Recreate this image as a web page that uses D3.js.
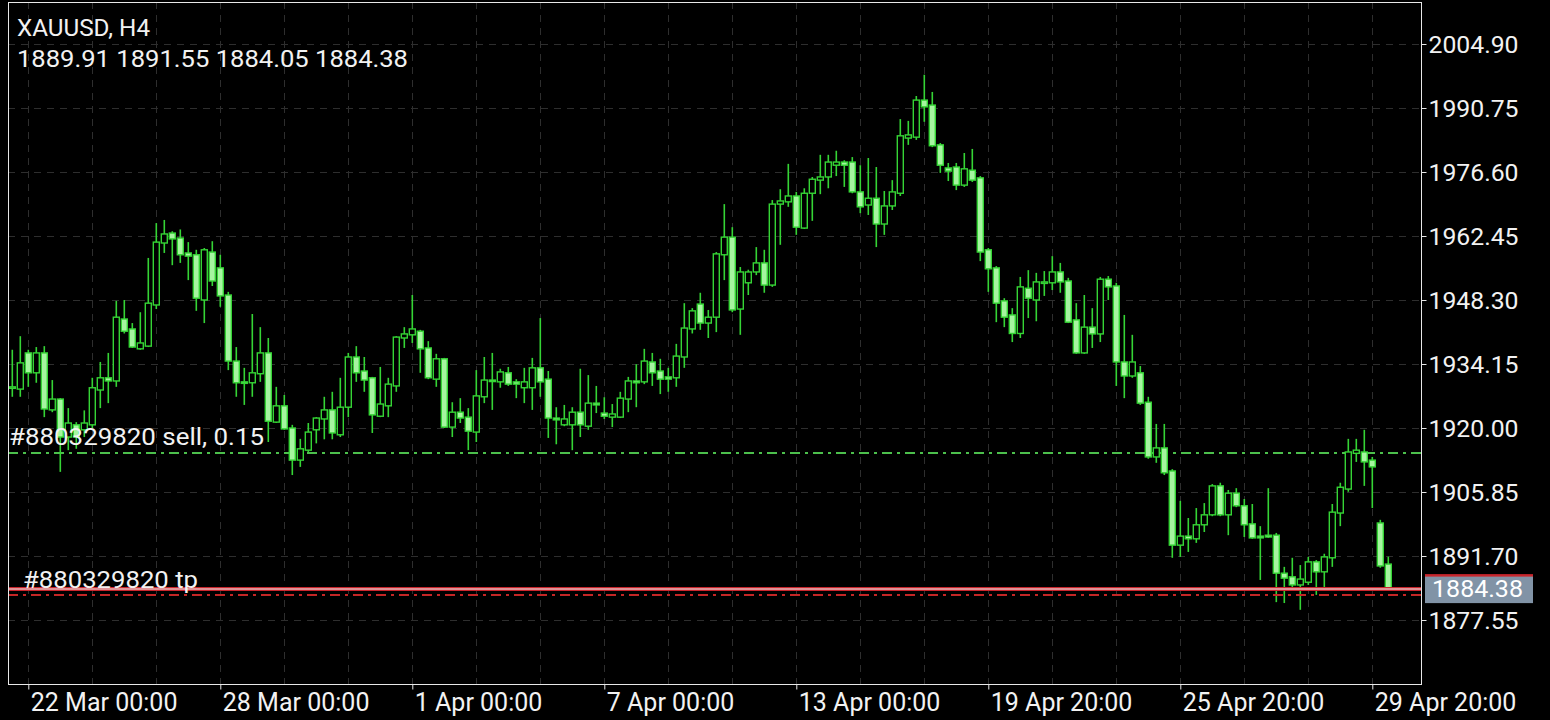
<!DOCTYPE html>
<html>
<head>
<meta charset="utf-8">
<script src="https://cdn.jsdelivr.net/npm/d3@7"></script>
<style>
  body { margin: 0; background: #000; }
  svg { display: block; font-family: Roboto, "Noto Sans", sans-serif; }
</style>
</head>
<body>
<script>
'use strict';

// XAUUSD H4 candles
const opens = [1928.9,1928.6,1936.6,1932.2,1936.6,1924.0,1926.4,1918.0,1920.7,1919.6,
  1920.7,1928.4,1931.1,1930.4,1944.1,1941.9,1937.5,1938.1,1947.2,1960.9,
  1963.1,1962.0,1958.7,1958.3,1948.3,1958.9,1955.4,1949.4,1934.8,1930.2,
  1930.0,1932.0,1936.6,1921.3,1924.9,1920.0,1912.9,1915.1,1919.6,1922.0,
  1924.0,1918.5,1924.6,1935.7,1932.6,1931.1,1922.6,1924.9,1929.3,1939.9,
  1940.6,1941.4,1937.7,1930.8,1935.3,1920.2,1923.5,1922.4,1919.1,1926.9,
  1930.6,1930.2,1932.2,1930.2,1928.9,1928.9,1933.3,1930.8,1922.2,1920.7,
  1920.7,1923.5,1920.4,1925.5,1923.3,1922.4,1922.4,1926.4,1930.4,1930.2,
  1934.6,1932.6,1931.3,1931.1,1935.7,1941.9,1947.4,1943.2,1944.5,1958.3,
  1962.2,1946.3,1952.1,1954.5,1956.5,1951.6,1969.5,1970.0,1971.3,1964.2,
  1971.9,1974.8,1975.5,1978.1,1978.8,1978.8,1972.2,1969.3,1970.8,1965.1,
  1969.1,1971.9,1984.1,1984.3,1992.5,1991.4,1982.6,1977.5,1977.7,1973.7,
  1977.0,1975.3,1959.4,1955.4,1948.1,1945.0,1940.9,1950.9,1948.3,1952.1,
  1952.1,1954.5,1952.5,1943.9,1936.6,1942.3,1940.8,1952.9,1951.4,1934.6,
  1931.5,1932.2,1925.7,1913.6,1915.6,1910.5,1894.1,1896.1,1895.5,1898.6,
  1900.8,1907.2,1900.8,1905.6,1902.8,1898.8,1896.1,1896.3,1896.3,1887.9,
  1887.1,1885.3,1885.9,1890.4,1888.2,1891.3,1901.2,1906.5,1914.4,1914.7,
  1912.9,1899.0,1889.91];
const highs = [1937.3,1940.3,1937.3,1937.9,1938.1,1930.6,1926.6,1924.4,1921.3,1923.9,
  1931.1,1934.6,1936.6,1948.1,1948.3,1943.2,1945.6,1957.6,1965.3,1966.0,
  1963.5,1963.9,1961.1,1959.4,1959.8,1961.3,1958.3,1950.1,1937.9,1933.3,
  1945.2,1942.3,1939.9,1929.1,1927.3,1920.7,1917.6,1921.1,1922.4,1926.9,
  1928.0,1931.1,1936.6,1938.1,1935.7,1931.3,1933.5,1931.1,1940.3,1942.3,
  1949.4,1941.7,1939.2,1936.4,1935.5,1925.7,1926.6,1924.4,1932.8,1935.7,
  1936.6,1933.1,1933.5,1930.8,1933.3,1935.5,1944.3,1932.6,1924.6,1925.1,
  1924.6,1933.1,1931.7,1929.3,1926.8,1925.3,1928.0,1931.3,1934.1,1937.5,
  1936.6,1935.3,1933.3,1938.6,1947.6,1946.5,1949.9,1946.1,1958.9,1969.5,
  1964.4,1955.6,1955.0,1960.0,1959.4,1970.4,1972.8,1978.4,1972.2,1973.0,
  1975.5,1980.4,1980.4,1981.3,1979.2,1979.9,1978.1,1979.7,1977.7,1972.4,
  1974.8,1988.3,1987.9,1993.4,1998.1,1994.3,1983.0,1978.6,1978.6,1980.8,
  1981.7,1975.7,1959.8,1955.8,1948.7,1946.5,1953.4,1954.9,1954.3,1954.7,
  1958.0,1956.5,1953.2,1947.6,1949.4,1946.5,1953.4,1953.6,1952.1,1945.0,
  1940.6,1933.7,1926.9,1920.9,1920.9,1910.9,1903.9,1900.1,1902.3,1903.4,
  1907.6,1907.9,1906.3,1906.7,1904.3,1903.2,1898.3,1906.7,1896.8,1889.3,
  1891.3,1889.7,1891.5,1890.8,1892.2,1903.2,1907.9,1917.6,1917.6,1919.6,
  1913.6,1899.7,1891.55];
const lows = [1926.9,1926.9,1929.1,1930.0,1922.4,1923.5,1910.3,1915.1,1915.4,1918.0,
  1920.0,1924.4,1925.5,1929.1,1940.9,1937.7,1937.3,1937.9,1946.3,1958.7,
  1956.0,1956.5,1952.7,1945.9,1943.2,1951.4,1946.8,1932.8,1926.9,1925.1,
  1926.9,1930.2,1916.9,1921.1,1919.6,1909.6,1911.4,1914.7,1916.6,1917.5,
  1917.5,1918.0,1922.4,1930.2,1928.0,1918.9,1922.4,1922.4,1928.0,1937.7,
  1938.8,1932.2,1930.8,1929.1,1920.0,1918.0,1921.1,1915.1,1916.9,1925.5,
  1924.0,1928.9,1929.3,1926.6,1925.5,1924.0,1926.9,1917.8,1916.4,1920.4,
  1915.1,1918.0,1919.6,1923.3,1922.0,1920.2,1922.2,1923.5,1924.6,1929.7,
  1929.3,1927.5,1928.0,1929.1,1933.3,1940.9,1941.7,1939.9,1941.2,1952.7,
  1945.6,1940.6,1949.4,1953.8,1949.9,1951.2,1960.5,1968.9,1962.7,1964.0,
  1965.8,1971.7,1973.0,1975.7,1973.3,1971.9,1967.5,1967.1,1960.0,1962.7,
  1968.2,1971.3,1982.6,1983.7,1987.7,1982.1,1976.4,1974.6,1972.6,1973.3,
  1974.4,1956.9,1950.1,1943.4,1942.3,1939.0,1939.9,1944.3,1943.6,1949.2,
  1950.5,1949.9,1943.2,1936.4,1936.4,1937.7,1939.0,1948.3,1929.3,1926.6,
  1931.1,1925.1,1913.2,1912.3,1909.6,1891.3,1891.5,1892.6,1894.6,1897.0,
  1900.5,1900.5,1896.3,1902.5,1895.9,1895.5,1886.4,1895.7,1881.5,1881.3,
  1884.6,1879.8,1885.3,1883.1,1884.6,1889.3,1898.3,1905.9,1912.5,1907.2,
  1902.3,1889.1,1884.05];
const closes = [1929.1,1934.4,1932.2,1936.6,1924.2,1926.4,1918.0,1921.1,1918.0,1921.1,
  1928.9,1931.1,1930.4,1944.5,1941.4,1937.9,1938.8,1947.6,1961.1,1962.9,
  1961.8,1958.3,1958.0,1948.7,1959.4,1952.5,1949.2,1934.8,1930.0,1930.0,
  1932.2,1936.6,1921.5,1924.9,1919.8,1912.9,1915.4,1919.1,1922.2,1924.0,
  1918.9,1924.6,1935.7,1932.2,1930.6,1922.9,1925.3,1929.7,1940.1,1940.8,
  1941.9,1937.5,1931.1,1935.3,1920.2,1923.5,1922.2,1919.3,1927.1,1930.6,
  1930.4,1932.4,1929.7,1929.7,1930.2,1933.3,1930.2,1922.2,1921.8,1922.0,
  1923.5,1920.7,1925.5,1925.1,1922.6,1923.1,1926.6,1930.4,1930.0,1934.8,
  1932.2,1930.8,1930.8,1935.9,1942.1,1945.9,1943.2,1944.5,1958.5,1962.2,
  1946.1,1954.5,1954.5,1956.5,1951.6,1969.5,1970.2,1971.3,1964.4,1971.9,
  1975.0,1975.5,1978.8,1978.8,1978.1,1972.2,1968.9,1970.8,1965.1,1969.1,
  1972.2,1984.6,1984.8,1992.5,1991.0,1982.4,1978.1,1976.8,1973.7,1977.3,
  1974.8,1958.9,1955.2,1947.6,1944.5,1940.9,1951.2,1948.7,1952.3,1952.3,
  1954.5,1952.3,1943.4,1936.6,1942.3,1940.8,1952.9,1951.2,1934.6,1931.5,
  1934.6,1925.5,1913.6,1915.6,1910.1,1894.1,1896.1,1895.5,1898.6,1900.8,
  1907.2,1900.8,1905.6,1902.8,1898.6,1895.7,1895.7,1895.9,1887.9,1886.8,
  1885.3,1886.6,1890.4,1888.2,1891.5,1901.4,1906.9,1914.7,1915.1,1912.5,
  1911.4,1889.5,1884.38];

// time axis labels sit on these bar numbers
const timeTickBars = [2, 26, 50, 74, 98, 122, 146, 170];
const timeTickLabels = ['22 Mar 00:00', '28 Mar 00:00', '1 Apr 00:00', '7 Apr 00:00',
  '13 Apr 00:00', '19 Apr 20:00', '25 Apr 20:00', '29 Apr 20:00'];
const gridBars = d3.range(2, 173, 8);
const priceTicks = [1877.55, 1891.70, 1905.85, 1920.00, 1934.15, 1948.30, 1962.45, 1976.60, 1990.75, 2004.90];

const symbolTitle = 'XAUUSD, H4';
const sellPrice = 1914.47;
const sellLabel = '#880329820 sell, 0.15';
const tpPrice = 1883.09;
const tpLabel = '#880329820 tp';
const bidPrice = 1884.38;

const W = 1550, H = 720;
const plot = {left: 8, top: 2, right: 1421, bottom: 684};

const candles = opens.map((o, i) => ({i: i, o: o, h: highs[i], l: lows[i], c: closes[i]}));

const svg = d3.select('body').append('svg')
  .attr('width', W)
  .attr('height', H);

svg.append('rect').attr('width', W).attr('height', H).attr('fill', '#000');

const x = d3.scaleLinear().domain([0, 172]).range([12.3, 1388.3]);
const y = d3.scaleLinear().domain([1877.55, 2004.90]).range([620, 44]);

svg.append('clipPath').attr('id', 'clip')
  .append('rect')
  .attr('x', plot.left).attr('y', plot.top)
  .attr('width', plot.right - plot.left).attr('height', plot.bottom - plot.top);

// text that keeps the wide look of the phone screenshot
function label(g, px, py, str, size, width) {
  return g.append('text')
    .attr('x', px).attr('y', py)
    .attr('fill', '#f2f2f2')
    .style('font-size', size + 'px')
    .attr('textLength', width)
    .attr('lengthAdjust', 'spacingAndGlyphs')
    .text(str);
}

// grid
const grid = svg.append('g').attr('stroke', '#2e2e2e').attr('stroke-width', 1)
  .attr('stroke-dasharray', '7,6');
grid.selectAll('.hg').data(priceTicks).enter().append('line')
  .attr('x1', plot.left).attr('x2', plot.right)
  .attr('y1', d => Math.round(y(d)) + 0.5).attr('y2', d => Math.round(y(d)) + 0.5);
grid.selectAll('.vg').data(gridBars).enter().append('line')
  .attr('x1', d => Math.round(x(d)) + 0.5).attr('x2', d => Math.round(x(d)) + 0.5)
  .attr('y1', plot.top).attr('y2', plot.bottom);

// header text
const last = candles[candles.length - 1];
label(svg, 17, 36, symbolTitle, 23, 133);
label(svg, 17, 67, [last.o, last.h, last.l, last.c].map(d3.format('.2f')).join(' '), 23, 391);

const chart = svg.append('g').attr('clip-path', 'url(#clip)');

// sell order line
chart.append('line')
  .attr('x1', plot.left).attr('x2', plot.right)
  .attr('y1', y(sellPrice)).attr('y2', y(sellPrice))
  .attr('stroke', '#4cbf4c').attr('stroke-width', 2)
  .attr('stroke-dasharray', '10,5,3,5');

// candles
const bull = '#000000', bear = '#a6f5a0', edge = '#35d435';
chart.selectAll('.wick').data(candles).enter().append('line')
  .attr('x1', d => x(d.i)).attr('x2', d => x(d.i))
  .attr('y1', d => y(d.h)).attr('y2', d => y(d.l))
  .attr('stroke', edge).attr('stroke-width', 1.6);
chart.selectAll('.body').data(candles).enter().append('rect')
  .attr('x', d => x(d.i) - 3)
  .attr('y', d => y(Math.max(d.o, d.c)))
  .attr('width', 6)
  .attr('height', d => Math.max(1.5, Math.abs(y(d.o) - y(d.c))))
  .attr('fill', d => d.c >= d.o ? bull : bear)
  .attr('stroke', edge).attr('stroke-width', 1.4);

// sell label over the candles
label(svg, 9, 445, sellLabel, 24, 255);

// take profit and bid lines
chart.append('line')
  .attr('x1', plot.left).attr('x2', plot.right)
  .attr('y1', y(tpPrice)).attr('y2', y(tpPrice))
  .attr('stroke', '#c42626').attr('stroke-width', 2)
  .attr('stroke-dasharray', '10,5,3,5');
label(svg, 23, 588, tpLabel, 24, 175);
chart.append('line')
  .attr('x1', plot.left).attr('x2', plot.right)
  .attr('y1', y(bidPrice)).attr('y2', y(bidPrice))
  .attr('stroke', '#c8262c').attr('stroke-width', 4);
chart.append('line')
  .attr('x1', plot.left).attr('x2', plot.right)
  .attr('y1', y(bidPrice)).attr('y2', y(bidPrice))
  .attr('stroke', '#e9b9bb').attr('stroke-width', 1.5);

// frame
svg.append('rect')
  .attr('x', plot.left + 0.5).attr('y', plot.top + 0.5)
  .attr('width', plot.right - plot.left).attr('height', plot.bottom - plot.top)
  .attr('fill', 'none').attr('stroke', '#e8e8e8').attr('stroke-width', 1);

// price axis
const yAxis = d3.axisRight(y).tickValues(priceTicks).tickFormat(d3.format('.2f'))
  .tickSize(5).tickPadding(2);
const yg = svg.append('g').attr('transform', 'translate(' + (plot.right + 0.5) + ',0)').call(yAxis);
yg.select('.domain').remove();
yg.selectAll('line').attr('stroke', '#e8e8e8');
yg.selectAll('text').attr('fill', '#f2f2f2').style('font-size', '23px')
  .style('font-family', 'Roboto').attr('dy', '0.36em')
  .attr('textLength', 90).attr('lengthAdjust', 'spacingAndGlyphs');

// bid price box
const bidY = y(bidPrice);
svg.append('rect').attr('x', 1425).attr('y', bidY - 14).attr('width', 108).attr('height', 28)
  .attr('fill', '#8193a6');
svg.append('rect').attr('x', 1425).attr('y', bidY - 15).attr('width', 108).attr('height', 2.5)
  .attr('fill', '#c8262c');
label(svg, 1432, bidY, d3.format('.2f')(bidPrice), 23, 91)
  .attr('dy', '0.36em').attr('fill', '#ffffff');

// time axis
const xAxis = d3.axisBottom(x).tickValues(timeTickBars)
  .tickFormat((d, k) => timeTickLabels[k]).tickSize(5);
const xg = svg.append('g').attr('transform', 'translate(0,' + (plot.bottom + 0.5) + ')').call(xAxis);
xg.select('.domain').remove();
xg.selectAll('line').attr('stroke', '#e8e8e8');
xg.selectAll('text')
  .attr('text-anchor', 'start')
  .attr('fill', '#f2f2f2')
  .style('font-size', '25px').style('font-family', 'Roboto')
  .attr('x', 2).attr('y', 26).attr('dy', 0);
</script>
</body>
</html>
